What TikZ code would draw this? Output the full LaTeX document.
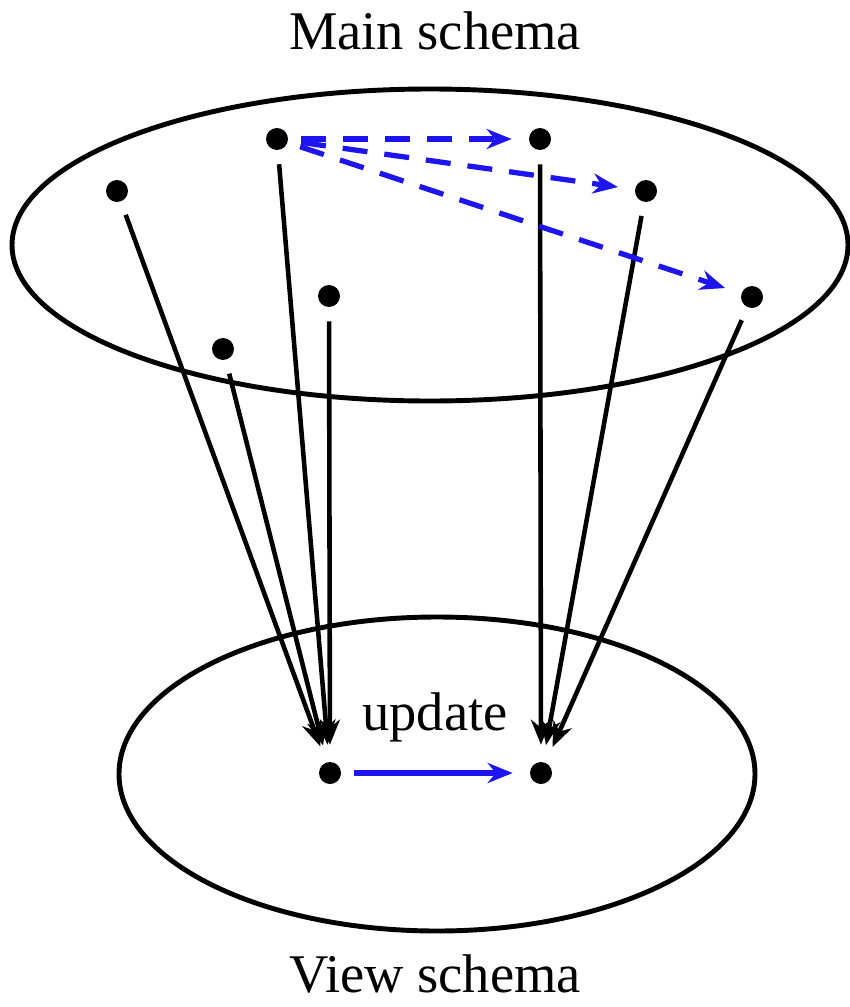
\documentclass[tikz,border=0pt]{standalone}
\usepackage{fontspec}
\setmainfont{Liberation Serif}
\usetikzlibrary{arrows.meta}
\definecolor{schemaink}{HTML}{000000}
\definecolor{schemablue}{HTML}{1E14F0}
\tikzset{
  elt/.style={circle, fill=schemaink, inner sep=0pt, minimum size=0.44cm},
  mapto/.style={schemaink, line width=2.6pt, -{Stealth[length=0.5cm, width=0.4cm]},
    shorten <=0.28cm, shorten >=0.34cm},
  depend/.style={schemablue, line width=3pt, -{Stealth[length=0.5cm, width=0.4cm]},
    shorten <=0.26cm, shorten >=0.34cm},
  rim/.style={schemaink, line width=2.8pt},
  label/.style={font=\fontsize{31}{37}\selectfont, anchor=base, inner sep=0pt, text depth=0pt}
}

\begin{document}
\begin{tikzpicture}[x=0.02cm, y=-0.02cm]
  \useasboundingbox (0,0) rectangle (849,1007);

  % the two schemas
  \draw[rim] (430,245) ellipse [x radius=418, y radius=156];
  \draw[rim] (437,774) ellipse [x radius=318, y radius=157];

  \node[label] (mainname) at (435,50) {Main schema};
  \node[label] (viewname) at (435,992) {View schema};
  \node[label] (updname) at (435,730) {update};

  % elements of the main schema
  \node[elt] (m1) at (117,191) {};
  \node[elt] (m2) at (277,139) {};
  \node[elt] (m3) at (223,349) {};
  \node[elt] (m4) at (329,296) {};
  \node[elt] (m5) at (540,139) {};
  \node[elt] (m6) at (646,191) {};
  \node[elt] (m7) at (752,297) {};

  % elements of the view schema
  \node[elt] (v1) at (330,773) {};
  \node[elt] (v2) at (541,773) {};

  % mappings
  \draw[mapto] (m1) -- (v1);
  \draw[mapto] (m2) -- (v1);
  \draw[mapto] (m3) -- (v1);
  \draw[mapto] (m4) -- (v1);
  \draw[mapto] (m5) -- (v2);
  \draw[mapto] (m6) -- (v2);
  \draw[mapto] (m7) -- (v2);

  % dependencies
  \draw[depend, dash pattern=on 0.5cm off 0.34cm] (m2) -- (m5);
  \draw[depend, dash pattern=on 0.5cm off 0.34cm] (m2) -- (m6);
  \draw[depend, dash pattern=on 0.5cm off 0.34cm] (m2) -- (m7);
  \draw[depend] (v1) -- (v2);

\end{tikzpicture}
\end{document}
